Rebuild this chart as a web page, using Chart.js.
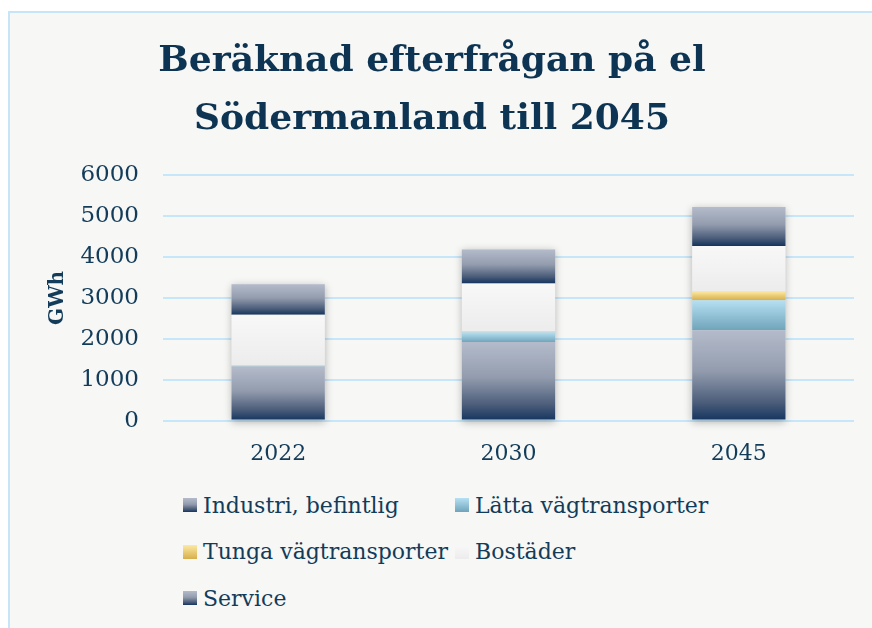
<!DOCTYPE html>
<html lang="sv">
<head>
<meta charset="utf-8">
<script src="https://cdn.jsdelivr.net/npm/chart.js@4"></script>
<style>
  html, body { margin: 0; padding: 0; background: #ffffff; overflow: hidden; width: 872px; height: 628px; }
  #frame {
    position: absolute; left: 8px; top: 11px; width: 900px; height: 700px;
    background: #f7f7f5; border-left: 2px solid #c6e5f8; border-top: 2px solid #c6e5f8;
  }
  #wrap { position: absolute; left: 10px; top: 13px; width: 876px; height: 466px; }
  #legend {
    position: absolute; left: 183px; top: 482px;
    display: grid; grid-template-columns: 272px 272px; row-gap: 0;
    font-family: "DejaVu Serif", serif; font-size: 22px; color: #123c5a;
  }
  .item { display: flex; align-items: center; height: 46.5px; white-space: nowrap; }
  .box { width: 14px; height: 14px; margin-right: 6px; flex: none; }
</style>
</head>
<body>
<div id="frame"></div>
<div id="wrap"><canvas id="chart"></canvas></div>
<div id="legend"></div>
<script>
// Beräknad efterfrågan på el, Södermanland (GWh)
const categories = ['2022', '2030', '2045'];
const industri = [1320, 1920, 2210];
const lattaVag = [15, 240, 735];
const tungaVag = [20, 25, 215];
const bostader = [1230, 1170, 1110];
const service = [750, 830, 950];
const yTicks = [0, 1000, 2000, 3000, 4000, 5000, 6000];

const TEXT = '#123c5a';

// gradient stops top -> bottom for each series
const navyStops = [[0, '#b4bccb'], [0.45, '#939cae'], [0.8, '#4b5d7a'], [1, '#14345e']];
const blueStops = [[0, '#b6e0f3'], [1, '#70a4ba']];
const yellowStops = [[0, '#fde9a2'], [1, '#d6af4c']];
const whiteStops = [[0, '#f8f8f8'], [1, '#ececec']];

function gradient(stops) {
  return (ctx) => {
    const chart = ctx.chart;
    if (!chart.chartArea || ctx.type !== 'data') return stops[0][1];
    const y = chart.scales.y;
    let base = 0;
    for (let i = 0; i < ctx.datasetIndex; i++) base += chart.data.datasets[i].data[ctx.dataIndex];
    const top = base + ctx.raw;
    const y0 = y.getPixelForValue(top);
    let y1 = y.getPixelForValue(base);
    if (y1 - y0 < 1) y1 = y0 + 1;
    const g = chart.ctx.createLinearGradient(0, y0, 0, y1);
    stops.forEach(s => g.addColorStop(s[0], s[1]));
    return g;
  };
}

const series = [
  { label: 'Industri, befintlig', data: industri, stops: navyStops },
  { label: 'Lätta vägtransporter', data: lattaVag, stops: blueStops },
  { label: 'Tunga vägtransporter', data: tungaVag, stops: yellowStops },
  { label: 'Bostäder', data: bostader, stops: whiteStops },
  { label: 'Service', data: service, stops: navyStops }
];

// soft shadow behind each whole stack
const barShadow = {
  id: 'barShadow',
  beforeDatasetsDraw(chart) {
    const c = chart.ctx;
    const first = chart.getDatasetMeta(0).data;
    const last = chart.getDatasetMeta(chart.data.datasets.length - 1).data;
    c.save();
    c.shadowColor = 'rgba(0,0,0,0.28)';
    c.shadowBlur = 8;
    c.shadowOffsetY = 2;
    c.fillStyle = '#dddddd';
    first.forEach((bar, i) => {
      const top = last[i].y;
      c.fillRect(bar.x - bar.width / 2, top, bar.width, bar.base - top);
    });
    c.restore();
  }
};

new Chart(document.getElementById('chart'), {
  type: 'bar',
  data: {
    labels: categories,
    datasets: series.map(s => ({
      label: s.label,
      data: s.data,
      backgroundColor: gradient(s.stops),
      borderWidth: 0,
      categoryPercentage: 1,
      barPercentage: 0.405
    }))
  },
  options: {
    responsive: true,
    maintainAspectRatio: false,
    animation: false,
    layout: { padding: { left: 0, right: 32, top: 0, bottom: 0 } },
    plugins: {
      legend: { display: false },
      tooltip: { enabled: false },
      title: {
        display: true,
        text: ['Beräknad efterfrågan på el', 'Södermanland till 2045'],
        color: '#0d3452',
        font: { family: 'DejaVu Serif', size: 36, weight: 'bold', lineHeight: 1.6 },
        padding: { top: 20, bottom: 27 }
      }
    },
    scales: {
      x: {
        stacked: true,
        grid: { display: false },
        border: { display: false },
        ticks: { color: TEXT, font: { family: 'DejaVu Serif', size: 22 }, padding: 12 }
      },
      y: {
        stacked: true,
        min: 0,
        max: 6000,
        afterBuildTicks: (axis) => { axis.ticks = yTicks.map(v => ({ value: v })); },
        afterFit: (axis) => { axis.width = 153; },
        grid: { color: '#c6e6f9', lineWidth: 2, drawTicks: false },
        border: { display: false },
        ticks: {
          color: TEXT, font: { family: 'DejaVu Serif', size: 23 }, padding: 24,
          callback: (v) => String(v)
        },
        title: {
          display: true, text: 'GWh', color: TEXT,
          font: { family: 'DejaVu Serif', size: 20, weight: 'bold' }, padding: { top: 36, bottom: 10 }
        }
      }
    }
  },
  plugins: [barShadow]
});

// HTML legend laid out in two aligned columns
const legendCss = stops => 'linear-gradient(to bottom, ' + stops.map(s => s[1] + ' ' + (s[0] * 100) + '%').join(', ') + ')';
document.getElementById('legend').innerHTML = series.map(s =>
  `<div class="item"><span class="box" style="background:${legendCss(s.stops)}"></span>${s.label}</div>`
).join('');
</script>
</body>
</html>
